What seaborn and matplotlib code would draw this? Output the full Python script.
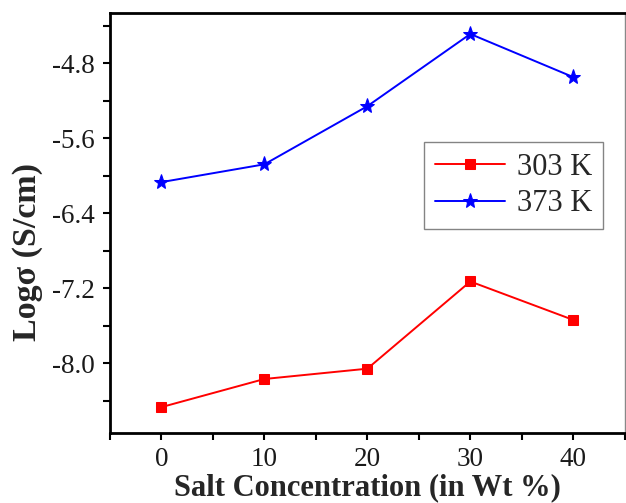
import matplotlib
matplotlib.use("Agg")
import matplotlib.pyplot as plt
import seaborn as sns
import pandas as pd
from matplotlib.ticker import MultipleLocator

# Data
salt_conc = [0, 10, 20, 30, 40]
log_sigma_303 = [-8.47, -8.17, -8.06, -7.13, -7.54]
log_sigma_373 = [-6.07, -5.88, -5.26, -4.49, -4.95]
series_labels = ["303 K", "373 K"]

sns.set_style("ticks")
plt.rcParams['font.family'] = ['Liberation Serif', 'DejaVu Serif']

fig = plt.figure(figsize=(6.26, 5.03), dpi=100)
ax = fig.add_axes([0.1757, 0.139, 0.998 - 0.1757, 0.974 - 0.139])

df303 = pd.DataFrame({"x": salt_conc, "y": log_sigma_303})
df373 = pd.DataFrame({"x": salt_conc, "y": log_sigma_373})

sns.lineplot(data=df303, x="x", y="y", ax=ax, color="#ff0000", marker="s",
             markersize=7, markeredgecolor="#ff0000", linewidth=1.4, label=series_labels[0])
sns.lineplot(data=df373, x="x", y="y", ax=ax, color="#0000ff", marker="*",
             markersize=11, markeredgecolor="#0000ff", linewidth=1.4, label=series_labels[1])

ax.set_xlim(-5, 45)
ax.set_ylim(-8.747, -4.267)
ax.xaxis.set_major_locator(MultipleLocator(10))
ax.xaxis.set_minor_locator(MultipleLocator(5))
ax.set_yticks([-8.0, -7.2, -6.4, -5.6, -4.8])
ax.set_yticklabels(["-8.0", "-7.2", "-6.4", "-5.6", "-4.8"])
ax.yaxis.set_minor_locator(MultipleLocator(0.4))

ax.tick_params(axis='both', which='both', direction='out', length=5, width=1.5,
               colors='black', labelsize=19.5, pad=6)
ax.tick_params(axis='x', which='both', pad=5)
for lab in ax.get_xticklabels() + ax.get_yticklabels():
    lab.set_color('#1a1a1a')

for s in ['left', 'bottom', 'top']:
    ax.spines[s].set_linewidth(2.0)
    ax.spines[s].set_color('black')
ax.spines['right'].set_linewidth(1.0)
ax.spines['right'].set_color('#888888')
ax.spines['top'].set_visible(True)
ax.spines['right'].set_visible(True)

ax.set_xlabel("Salt Concentration (in Wt %)", fontsize=22, fontweight='bold', va='bottom')
ax.xaxis.set_label_coords(0.5, (1 - 70) / 420.0)
ax.set_ylabel("Logσ (S/cm)", fontsize=24.5, fontweight='bold')
ax.yaxis.set_label_coords((43 - 110) / 515.0, 0.43)

leg = ax.legend(loc='upper left', bbox_to_anchor=(0.61, 0.693), fontsize=22,
                frameon=True, fancybox=False, edgecolor='#666666',
                handlelength=2.3, handletextpad=0.4, borderpad=0.35,
                labelspacing=0.25, borderaxespad=0)
leg.get_frame().set_linewidth(1.0)

fig.savefig("out.png", dpi=100)
